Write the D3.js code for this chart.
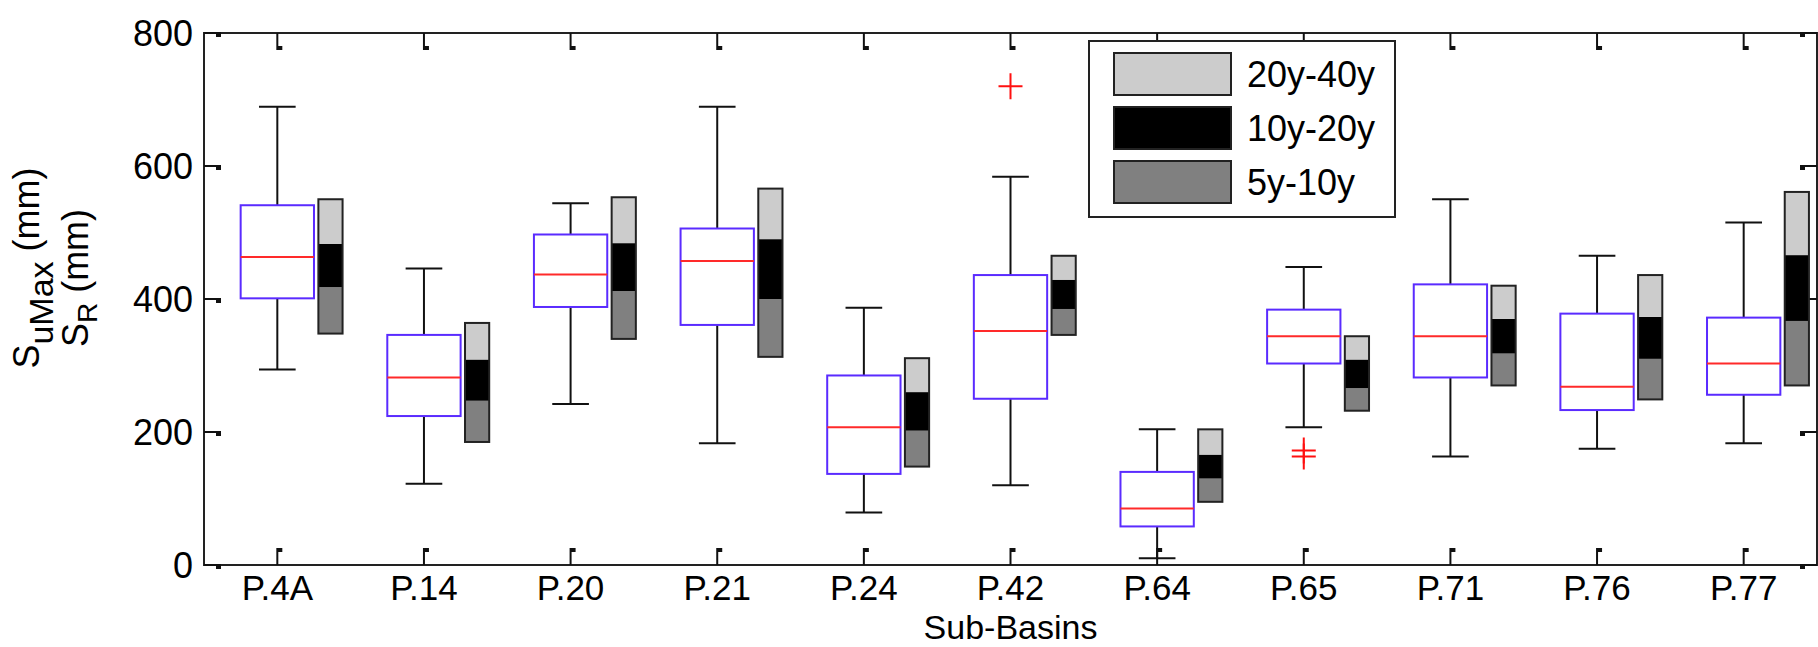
<!DOCTYPE html>
<html>
<head>
<meta charset="utf-8">
<script src="https://cdn.jsdelivr.net/npm/d3@7"></script>
<style>
  body { margin: 0; background: #fff; }
  text { font-family: "Liberation Sans", Arial, sans-serif; fill: #000; }
</style>
</head>
<body>
<div id="graph1"></div>
<script>
// sub-basins and box statistics (mm)
var categories = ["P.4A", "P.14", "P.20", "P.21", "P.24", "P.42", "P.64", "P.65", "P.71", "P.76", "P.77"];
var whiskerLow  = [294, 122, 242, 183,  79, 120,  10, 207, 163, 175, 183];
var q1          = [401, 224, 388, 361, 137, 250,  58, 303, 282, 233, 256];
var median      = [463, 282, 437, 457, 207, 352,  85, 344, 344, 268, 303];
var q3          = [541, 346, 497, 506, 285, 436, 140, 384, 422, 378, 372];
var whiskerHigh = [689, 446, 544, 689, 387, 584, 204, 448, 550, 465, 515];
var outliers = [["P.42", 720], ["P.65", 172], ["P.65", 163]];

// return period bars S_R
var barBase  = [348, 185, 340, 313, 148, 346,  95, 232, 270, 249, 270];
var bar5_10  = [418, 247, 412, 400, 202, 385, 130, 266, 318, 310, 367];
var bar10_20 = [483, 309, 484, 490, 260, 429, 166, 309, 370, 373, 466];
var bar20_40 = [550, 364, 553, 566, 311, 465, 204, 344, 420, 436, 561];

var legendLabels = ["20y-40y", "10y-20y", "5y-10y"];
var legendColors = ["#cccccc", "#000000", "#808080"];
var yTicks = [0, 200, 400, 600, 800];

var width = 1818,
    height = 647,
    pL = 204, pR = 1817, pT = 33, pB = 565;

var svg = d3.select("#graph1")
  .append("svg")
    .attr("width", width)
    .attr("height", height);

svg.append("rect").attr("width", width).attr("height", height).attr("fill", "#fff");

var x = d3.scaleBand().domain(categories).range([pL, pR]);
var y = d3.scaleLinear().domain([0, 800]).range([pB, pT]);
var bw = x.bandwidth();
var cx = function(c){ return x(c) + bw / 2 };

var boxes = categories.map(function(c, i){
  return {cat: c, lo: whiskerLow[i], q1: q1[i], med: median[i], q3: q3[i], hi: whiskerHigh[i],
          segs: [[barBase[i], bar5_10[i], legendColors[2]], [bar5_10[i], bar10_20[i], legendColors[1]], [bar10_20[i], bar20_40[i], legendColors[0]]]};
});

// frame
svg.append("rect")
  .attr("x", pL).attr("y", pT)
  .attr("width", pR - pL).attr("height", pB - pT)
  .attr("fill", "none").attr("stroke", "#222").attr("stroke-width", 2);

// ticks, matlab style with the little end dot
var tl = 17;
categories.forEach(function(c){
  var px = cx(c);
  svg.append("line").attr("x1", px).attr("x2", px).attr("y1", pT).attr("y2", pT + tl).attr("stroke", "#111").attr("stroke-width", 2);
  svg.append("rect").attr("x", px).attr("y", pT + tl - 4).attr("width", 5).attr("height", 4).attr("fill", "#111");
  svg.append("line").attr("x1", px).attr("x2", px).attr("y1", pB).attr("y2", pB - tl).attr("stroke", "#111").attr("stroke-width", 2);
  svg.append("rect").attr("x", px).attr("y", pB - tl).attr("width", 5).attr("height", 4).attr("fill", "#111");
});
yTicks.forEach(function(t){
  var py = y(t);
  svg.append("line").attr("x1", pL).attr("x2", pL + tl).attr("y1", py).attr("y2", py).attr("stroke", "#111").attr("stroke-width", 2);
  svg.append("rect").attr("x", pL + tl - 5).attr("y", py).attr("width", 5).attr("height", 4).attr("fill", "#111");
  svg.append("line").attr("x1", pR).attr("x2", pR - tl).attr("y1", py).attr("y2", py).attr("stroke", "#111").attr("stroke-width", 2);
  svg.append("rect").attr("x", pR - tl).attr("y", py).attr("width", 5).attr("height", 4).attr("fill", "#111");
});

// tick labels
svg.append("g")
  .attr("font-size", 36)
  .attr("text-anchor", "end")
  .selectAll("text")
  .data(yTicks)
  .join("text")
    .attr("x", pL - 11)
    .attr("y", d => y(d) + 13)
    .text(d => d);

svg.append("g")
  .attr("font-size", 35)
  .attr("text-anchor", "middle")
  .selectAll("text")
  .data(categories)
  .join("text")
    .attr("x", d => cx(d))
    .attr("y", 600)
    .text(d => d);

svg.append("text")
  .attr("x", (pL + pR) / 2)
  .attr("y", 639)
  .attr("font-size", 34)
  .attr("text-anchor", "middle")
  .text("Sub-Basins");

// y label, two lines
var yl1 = svg.append("text")
  .attr("transform", "translate(39,268) rotate(-90)")
  .attr("font-size", 36)
  .attr("text-anchor", "middle");
yl1.append("tspan").text("S");
yl1.append("tspan").attr("font-size", 34).attr("dy", 14).text("uMax");
yl1.append("tspan").attr("dy", -14).text(" (mm)");

var yl2 = svg.append("text")
  .attr("transform", "translate(88,278) rotate(-90)")
  .attr("font-size", 36)
  .attr("text-anchor", "middle");
yl2.append("tspan").text("S");
yl2.append("tspan").attr("font-size", 28).attr("dy", 9).text("R");
yl2.append("tspan").attr("dy", -9).text(" (mm)");

// whiskers
var g = svg.append("g").selectAll("g").data(boxes).join("g");
g.append("line")
  .attr("x1", d => cx(d.cat)).attr("x2", d => cx(d.cat))
  .attr("y1", d => y(d.q3)).attr("y2", d => y(d.hi))
  .attr("stroke", "#111").attr("stroke-width", 2);
g.append("line")
  .attr("x1", d => cx(d.cat)).attr("x2", d => cx(d.cat))
  .attr("y1", d => y(d.q1)).attr("y2", d => y(d.lo))
  .attr("stroke", "#111").attr("stroke-width", 2);
g.selectAll(".cap")
  .data(d => [[d.cat, d.hi], [d.cat, d.lo]])
  .join("line")
    .attr("x1", d => cx(d[0]) - bw / 8).attr("x2", d => cx(d[0]) + bw / 8)
    .attr("y1", d => y(d[1])).attr("y2", d => y(d[1]))
    .attr("stroke", "#111").attr("stroke-width", 2);

// boxes
g.append("rect")
  .attr("x", d => cx(d.cat) - bw / 4)
  .attr("width", bw / 2)
  .attr("y", d => y(d.q3))
  .attr("height", d => y(d.q1) - y(d.q3))
  .attr("fill", "#fff")
  .attr("stroke", "#5a2bff")
  .attr("stroke-width", 2);
g.append("line")
  .attr("x1", d => cx(d.cat) - bw / 4).attr("x2", d => cx(d.cat) + bw / 4)
  .attr("y1", d => y(d.med)).attr("y2", d => y(d.med))
  .attr("stroke", "#ff2a2a").attr("stroke-width", 2);

// stacked S_R bars
g.selectAll(".seg")
  .data(d => d.segs.map(s => [d.cat].concat(s)))
  .join("rect")
    .attr("x", d => cx(d[0]) + bw * 0.28)
    .attr("width", bw * 0.165)
    .attr("y", d => y(d[2]))
    .attr("height", d => y(d[1]) - y(d[2]))
    .attr("fill", d => d[3]);
g.append("rect")
  .attr("x", d => cx(d.cat) + bw * 0.28)
  .attr("width", bw * 0.165)
  .attr("y", d => y(d.segs[2][1]))
  .attr("height", d => y(d.segs[0][0]) - y(d.segs[2][1]))
  .attr("fill", "none")
  .attr("stroke", "#222")
  .attr("stroke-width", 2);

// outliers
svg.append("g").selectAll("path")
  .data(outliers)
  .join("path")
    .attr("d", d => {
      var px = cx(d[0]), py = y(d[1]);
      return "M" + (px - 12) + "," + py + "H" + (px + 12) + "M" + px + "," + (py - 13) + "V" + (py + 13);
    })
    .attr("stroke", "#ff1010").attr("stroke-width", 2).attr("fill", "none");

// legend
var lg = svg.append("g");
lg.append("rect")
  .attr("x", 1089).attr("y", 41).attr("width", 306).attr("height", 176)
  .attr("fill", "#fff").attr("stroke", "#222").attr("stroke-width", 2);
lg.selectAll(".sw")
  .data(legendLabels)
  .join("rect")
    .attr("x", 1114).attr("y", (d, i) => 53 + i * 54)
    .attr("width", 117).attr("height", 42)
    .attr("fill", (d, i) => legendColors[i])
    .attr("stroke", "#222").attr("stroke-width", 2);
lg.selectAll("text")
  .data(legendLabels)
  .join("text")
    .attr("x", 1247).attr("y", (d, i) => 87 + i * 54)
    .attr("font-size", 36)
    .text(d => d);
</script>
</body>
</html>
